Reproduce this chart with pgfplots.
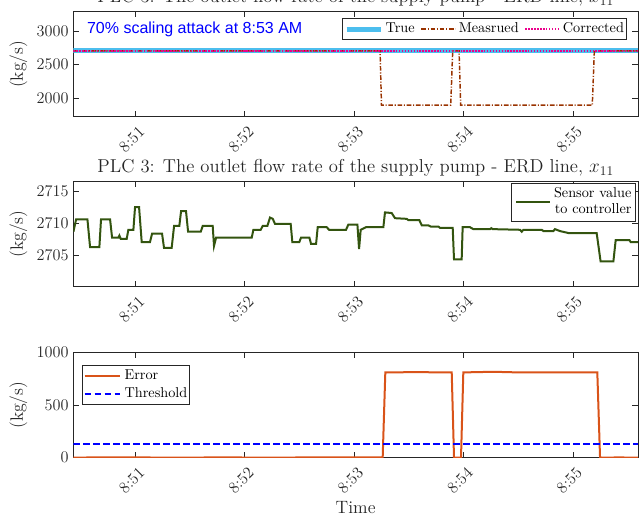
\documentclass[border=0pt]{standalone}
\usepackage{fontspec}
\usepackage{pgfplots}
\pgfplotsset{compat=1.18}
\newfontfamily\arialfont{Liberation Sans}
\definecolor{trueblue}{rgb}{0.30,0.745,0.933}
\definecolor{measbrown}{rgb}{0.6,0.2,0}
\definecolor{errorange}{rgb}{0.85,0.325,0.098}
\definecolor{sensgreen}{rgb}{0.20,0.33,0.06}
\definecolor{axgray}{rgb}{0.15,0.15,0.15}

\pgfplotsset{
 panel/.style={
  scale only axis, width=423.5pt, height=78.75pt,
  xmin=0.433, xmax=5.595,
  xtick={1,2,3,4,5}, xticklabels={8:51,8:52,8:53,8:54,8:55},
  axis line style={draw=axgray, line width=0.5pt},
  every tick/.style={draw=axgray, line width=0.5pt},
  major tick length=4.2pt,
  tick align=inside,
  scaled ticks=false,
  tick label style={font=\fontsize{12.2}{14}\selectfont, text=axgray},
  xticklabel style={xshift=4.9pt, yshift=-9.5pt, rotate=45, anchor=east, inner sep=0pt},
  every axis y label/.style={at={(axis description cs:-0.0974,0.5)}, rotate=90, anchor=center, font=\fontsize{13.4}{16}\selectfont, text=axgray},
  every axis title/.style={at={(axis description cs:0.5,1.089)}, anchor=base, font=\fontsize{14}{17}\selectfont, text=axgray},
  title={PLC 3: The outlet flow rate of the supply pump - ERD line, $x_{11}$},
  ylabel={(kg/s)},
  legend image code/.code={\draw[##1] (0pt,0pt) -- (25.5pt,0pt);},
 }
}

\begin{document}
\begin{tikzpicture}
\path[use as bounding box] (0,0) rectangle (481.5pt,389.25pt);

% ---------------- top panel ----------------
\begin{axis}[panel, at={(55pt,301.7pt)}, anchor=south west,
  ymin=1725, ymax=3290, ytick={2000,2500,3000}, yticklabels={2000,2500,3000},
  legend columns=3,
  legend style={at={(0.9805,0.937)}, anchor=north east, draw=axgray, line width=0.5pt, fill=white,
    font=\fontsize{10.7}{12.5}\selectfont, inner xsep=1.5pt, inner ysep=2.5pt,
    nodes={inner sep=0.5pt, text height=7.5pt, text depth=2.2pt},
    /tikz/every odd column/.append style={column sep=1.5pt},
    /tikz/every even column/.append style={column sep=4pt}},
]
\addplot[trueblue, line width=3.75pt] coordinates {(0.433,2708) (2.0,2708) (4.0,2708) (5.595,2708)};
\addlegendentry{True}
\addplot[measbrown, line width=1.1pt, dash pattern=on 3.5pt off 1.3pt on 0.8pt off 1.3pt] coordinates {
(0.433,2708) (3.237,2708) (3.250,1897) (3.883,1897) (3.901,2708) (3.959,2708)
(3.974,1897) (5.177,1897) (5.196,2708) (5.595,2708)};
\addlegendentry{Measrued}
\addplot[magenta, line width=1.1pt, dash pattern=on 1.1pt off 1.1pt] coordinates {(0.433,2708) (2.0,2708) (4.0,2708) (5.595,2708)};
\addlegendentry{Corrected}
\node[anchor=base west, inner sep=0pt, text=blue, font=\arialfont\fontsize{12}{14}\selectfont]
  at (axis cs:0.556,2965) {70\% scaling attack at 8:53 AM};
\end{axis}

% ---------------- middle panel ----------------
\begin{axis}[panel, at={(55pt,174.4pt)}, anchor=south west,
  ymin=2700.2, ymax=2716.5, ytick={2705,2710,2715}, yticklabels={2705,2710,2715},
  legend style={at={(0.996,0.984)}, anchor=north east, draw=axgray, line width=0.5pt, fill=white,
    font=\fontsize{10.7}{12}\selectfont, inner xsep=2.5pt, inner ysep=1.65pt,
    nodes={inner sep=0.5pt, text height={}, text depth={}},
    /tikz/every odd column/.append style={column sep=1.75pt}},
]
\addplot[sensgreen, line width=1.5pt] coordinates {
(0.434,2708.7) (0.458,2710.6) (0.562,2710.6) (0.586,2706.3) (0.671,2706.3) (0.686,2710.6)
(0.769,2710.6) (0.787,2707.8) (0.845,2707.8) (0.854,2708.1) (0.866,2707.6) (0.921,2707.6)
(0.936,2709.0) (0.982,2709.0) (0.997,2712.5) (1.034,2712.5) (1.058,2707.1) (1.134,2707.1)
(1.153,2708.4) (1.244,2708.4) (1.262,2706.2) (1.332,2706.2) (1.354,2709.6) (1.402,2709.6)
(1.418,2711.9) (1.463,2711.9) (1.482,2708.7) (1.598,2708.7) (1.616,2709.6) (1.707,2709.6)
(1.719,2706.5) (1.738,2707.8) (2.064,2707.8) (2.079,2709.0) (2.146,2709.0) (2.164,2709.6)
(2.207,2709.6) (2.231,2710.9) (2.256,2710.7) (2.277,2709.9) (2.420,2709.9) (2.435,2707.1)
(2.499,2707.1) (2.515,2707.8) (2.591,2707.8) (2.606,2706.8) (2.652,2706.8) (2.667,2709.4)
(2.749,2709.4) (2.771,2709.0) (2.926,2709.0) (2.947,2709.8) (3.030,2709.8) (3.045,2706.0)
(3.060,2709.0) (3.109,2709.4) (3.267,2709.4) (3.282,2711.7) (3.343,2711.6) (3.374,2710.8)
(3.480,2710.7) (3.496,2710.5) (3.596,2710.5) (3.618,2709.7) (3.678,2709.7) (3.700,2709.5)
(3.770,2709.5) (3.785,2709.3) (3.901,2709.3) (3.913,2704.4) (3.983,2704.4) (3.992,2709.4)
(4.059,2709.4) (4.090,2709.1) (4.242,2709.1) (4.254,2709.25) (4.267,2709.1) (4.517,2709.0)
(4.532,2708.7) (4.547,2709.0) (4.715,2709.0) (4.730,2708.8) (4.821,2708.8) (4.836,2709.1)
(4.882,2708.8) (4.958,2708.5) (5.217,2708.5) (5.253,2704.1) (5.370,2704.1) (5.391,2707.4)
(5.516,2707.4) (5.528,2707.1) (5.595,2707.1)};
\addlegendentry{\begin{tabular}{@{}r@{}}Sensor value\\to controller\end{tabular}}
\end{axis}

% ---------------- bottom panel ----------------
\begin{axis}[panel, at={(55pt,46pt)}, anchor=south west,
  ymin=0, ymax=1000, ytick={0,500,1000}, yticklabels={0,500,1000},
  title={},
  xlabel={Time},
  every axis x label/.style={at={(axis description cs:0.5,-0.527)}, anchor=base, font=\fontsize{13.4}{16}\selectfont, text=axgray},
  legend cell align=left,
  legend image code/.code={\draw[#1] (0pt,0pt) -- (26.7pt,0pt);},
  legend style={at={(0.0154,0.881)}, anchor=north west, draw=axgray, line width=0.5pt, fill=white,
    font=\fontsize{10.7}{12.5}\selectfont, inner xsep=1pt, inner ysep=2.6pt, row sep=2.6pt,
    nodes={inner sep=0.5pt, text height=7.5pt, text depth=2.2pt},
    /tikz/every odd column/.append style={column sep=2pt}},
]
\addplot[errorange, line width=1.5pt] coordinates {
(0.433,1) (0.8,3) (1.3,1) (1.8,2) (2.3,1) (2.8,3) (3.261,2) (3.285,812) (3.5,814) (3.892,813)
(3.913,0) (3.977,0) (3.998,812) (4.272,818) (4.5,812) (4.9,812) (5.223,812) (5.248,0)
(5.4,2) (5.595,1)};
\addlegendentry{Error}
\addplot[blue, line width=1.5pt, dash pattern=on 5pt off 2.5pt] coordinates {(0.433,128) (5.595,128)};
\addlegendentry{Threshold}
\end{axis}
\end{tikzpicture}
\end{document}
